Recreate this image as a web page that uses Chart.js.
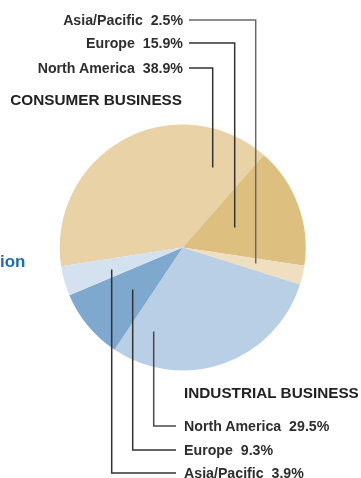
<!DOCTYPE html>
<html>
<head>
<meta charset="utf-8">
<script src="https://cdn.jsdelivr.net/npm/chart.js@4"></script>
<style>
  html,body{margin:0;padding:0;background:#fff;}
  #wrap{position:relative;width:361px;height:478px;overflow:hidden;}
  #pie{position:absolute;left:0;top:0;}
  .lbl{position:absolute;white-space:pre;font-family:"Liberation Sans",Arial,sans-serif;font-weight:bold;
       font-size:14.2px;line-height:1;color:#2e2e2e;transform:translateY(-50%);}
  .head{font-size:15.3px;color:#222;}
  .side{font-size:17px;color:#1f6db0;}
</style>
</head>
<body>
<div id="wrap">
  <canvas id="pie" width="361" height="478"></canvas>
  <div class="lbl side" style="left:0;top:261px">ion</div>
</div>
<script>
// ===== Datos =====
const regions = ['North America', 'Europe', 'Asia/Pacific'];
const consumerShares = [38.9, 15.9, 2.5];
const industrialShares = [29.5, 9.3, 3.9];
const consumerColors = ['#e8d2a6', '#ddbf80', '#f0dfbf'];
const industrialColors = ['#b9cfe5', '#7fa8ce', '#d4e1ef'];

// ===== Layout de etiquetas =====
const topLabelY = [68, 43, 20];       // NA, Europe, AP (consumer)
const bottomLabelY = [426, 450, 473]; // NA, Europe, AP (industrial)
// puntos de anclaje dentro del pie, relativos al centro
const consumerAnchors = [[30, -80], [52, -20], [73, 16]];
const industrialAnchors = [[-29, 84], [-50, 42], [-71, 22]];

const wrap = document.getElementById('wrap');
function addLabel(text, cls, css){
  const d = document.createElement('div');
  d.className = 'lbl ' + cls;
  d.textContent = text;
  Object.assign(d.style, css);
  wrap.appendChild(d);
}

regions.forEach((r, i) => {
  addLabel(`${r}  ${consumerShares[i]}%`, '', {right: (361 - 183) + 'px', top: topLabelY[i] + 'px'});
  addLabel(`${r}  ${industrialShares[i]}%`, '', {left: '184px', top: bottomLabelY[i] + 'px'});
});
addLabel('CONSUMER BUSINESS', 'head', {right: (361 - 182) + 'px', top: '100px'});
addLabel('INDUSTRIAL BUSINESS', 'head', {left: '184px', top: '393px'});

// ===== Líneas guía =====
const leaderPlugin = {
  id: 'leaders',
  afterDraw(chart){
    const arc = chart.getDatasetMeta(0).data[0];
    const cx = arc.x, cy = arc.y;
    const ctx = chart.ctx;
    ctx.save();
    ctx.lineWidth = 1.5;
    consumerAnchors.forEach(([dx, dy], i) => {
      const ax = cx + dx, ay = cy + dy, ly = topLabelY[i];
      ctx.strokeStyle = i === 2 ? '#6a6a6a' : '#333';
      ctx.beginPath();
      ctx.moveTo(189, ly);
      ctx.lineTo(ax, ly);
      ctx.lineTo(ax, ay);
      ctx.stroke();
    });
    industrialAnchors.forEach(([dx, dy], i) => {
      const ax = cx + dx, ay = cy + dy, ly = bottomLabelY[i];
      ctx.strokeStyle = i === 0 ? '#4a4a4a' : '#333';
      ctx.beginPath();
      ctx.moveTo(ax, ay);
      ctx.lineTo(ax, ly);
      ctx.lineTo(176, ly);
      ctx.stroke();
    });
    ctx.restore();
  }
};

// ===== Gráfico =====
const values = consumerShares.concat(industrialShares);
const colors = consumerColors.concat(industrialColors);
const labels = regions.map(r => 'Consumer ' + r).concat(regions.map(r => 'Industrial ' + r));

new Chart(document.getElementById('pie'), {
  type: 'pie',
  data: {labels, datasets: [{data: values, backgroundColor: colors, borderWidth: 0}]},
  options: {
    responsive: false,
    animation: false,
    rotation: -98.8,
    layout: {padding: {left: 59.7, right: 55.3, top: 124.5, bottom: 107.5}},
    plugins: {legend: {display: false}, tooltip: {enabled: false}}
  },
  plugins: [leaderPlugin]
});
</script>
</body>
</html>
